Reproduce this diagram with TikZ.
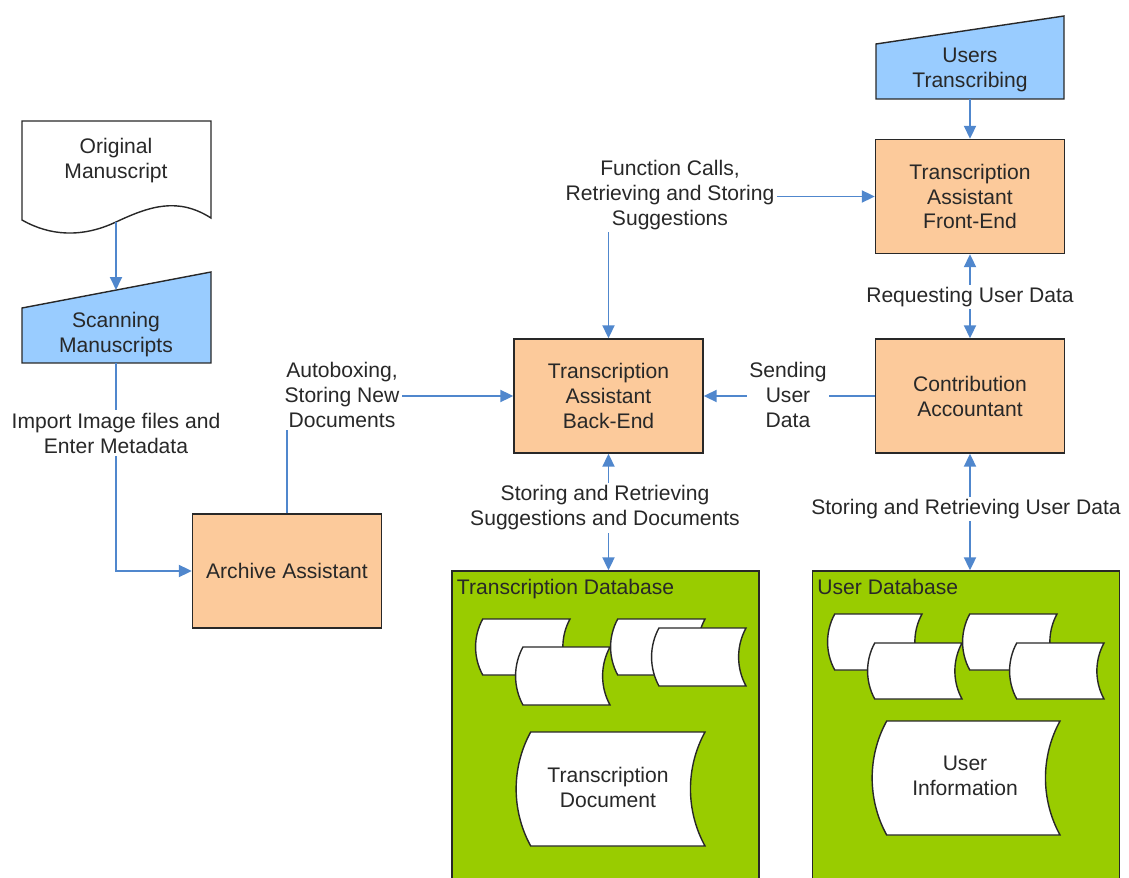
\documentclass[tikz,border=0pt]{standalone}
\usepackage{fontspec}
\setmainfont{Liberation Sans}
\usepackage{tikz}
\usetikzlibrary{arrows.meta, shapes.geometric}
\usetikzlibrary{positioning}
\definecolor{peach}{RGB}{252,202,155}
\definecolor{skyblue}{RGB}{153,204,255}
\definecolor{dbgreen}{RGB}{153,204,0}
\definecolor{flowblue}{RGB}{80,135,205}
\definecolor{inkgray}{RGB}{40,40,40}
\tikzstyle{process} = [rectangle, minimum width=3.78cm, minimum height=2.28cm, align=center, draw=inkgray, fill=peach, line width=0.8pt]
\tikzstyle{arrow} = [flowblue, line width=1.1pt, ->, >={Triangle[length=0.26cm, width=0.24cm]}]
\tikzstyle{twoway} = [arrow, <->]
\tikzstyle{tag} = [fill=white, inner sep=1.5pt, align=center]
\tikzstyle{manual} = [draw=inkgray, fill=skyblue, line width=0.8pt]
\tikzstyle{paper} = [draw=inkgray, fill=white, line width=0.8pt]
\tikzstyle{database} = [rectangle, draw=inkgray, fill=dbgreen, line width=0.8pt, minimum width=6.14cm, minimum height=6.3cm]
\newcommand{\storeddata}[4]{%
  \draw[paper] ({#1+0.12*#4},#2) -- ({#1+#3},#2)
    .. controls ({#1+#3-0.17*#4},{#2+0.31*#4}) and ({#1+#3-0.17*#4},{#2+0.69*#4}) .. ({#1+#3},{#2+#4})
    -- ({#1+0.12*#4},{#2+#4})
    .. controls ({#1-0.05*#4},{#2+0.69*#4}) and ({#1-0.05*#4},{#2+0.31*#4}) .. ({#1+0.12*#4},#2) -- cycle;}

\begin{document}
\begin{tikzpicture}[x=0.02cm, y=-0.02cm, font=\fontsize{12}{14.2}\selectfont, text=inkgray, align=center]
                    \useasboundingbox (0,0) rectangle (1129,878);
                    \draw[paper] (22,121) -- (211,121) -- (211,218) .. controls (178,197) and (150,206) .. (116,222) .. controls (82,238) and (50,236) .. (22,220) -- cycle;
                    \node (orig) at (116,161) {Original\\Manuscript};
                    \coordinate (origbot) at (116,222);
                    \draw[manual] (22,308) -- (211,272) -- (211,363) -- (22,363) -- cycle;
                    \node (scan) at (116,335) {Scanning\\Manuscripts};
                    \coordinate (scantop) at (116,290);
                    \coordinate (scanbot) at (116,363);
                    \draw[manual] (876,44) -- (1064,16) -- (1064,99) -- (876,99) -- cycle;
                    \node (users) at (970,70) {Users\\Transcribing};
                    \coordinate (usersbot) at (970,99);

                    \node[process] (archive) at (287,571) {Archive Assistant};
                    \node[process] (back) at (608.5,396) {Transcription\\Assistant\\Back-End};
                    \node[process] (front) at (970,196.5) {Transcription\\Assistant\\Front-End};
                    \node[process] (contrib) at (970,396) {Contribution\\Accountant};

                    \node[database] (transdb) at (605.5,728.5) {};
                    \node[database] (userdb) at (966,728.5) {};
                    \node[anchor=north west, inner xsep=3pt, inner ysep=5pt] (transdbtitle) at (transdb.north west) {Transcription Database};
                    \node[anchor=north west, inner xsep=3pt, inner ysep=5pt] (userdbtitle) at (userdb.north west) {User Database};

                    \storeddata{476}{619}{94}{56}
                    \storeddata{516}{647}{94}{58}
                    \storeddata{611}{619}{94}{56}
                    \storeddata{652}{628}{94}{58}
                    \storeddata{517}{732}{188}{114}
                    \node (transdoc) at (608,787) {Transcription\\Document};
                    \storeddata{828}{614}{94}{56}
                    \storeddata{868}{643}{94}{56}
                    \storeddata{963}{614}{94}{56}
                    \storeddata{1010}{643}{94}{56}
                    \storeddata{873}{721}{187}{114}
                    \node (userinfo) at (965,776) {User\\Information};

                    \draw[arrow] (origbot) -- (scantop);
                    \draw[arrow] (scanbot) |- (archive.west);
                    \draw[arrow] (archive.north) |- (back.west);
                    \draw[twoway] (back.north) |- (front.west);
                    \draw[arrow] (contrib.west) -- (back.east);
                    \draw[arrow] (usersbot) -- (front.north);
                    \draw[twoway] (front.south) -- (contrib.north);
                    \draw[twoway] (back.south) -- (back.south |- transdb.north);
                    \draw[twoway] (contrib.south) -- (contrib.south |- userdb.north);

                    \node[tag] (importlbl) at (116,433) {Import Image files and\\Enter Metadata};
                    \node[tag] (autolbl) at (342,395) {Autoboxing,\\Storing New\\Documents};
                    \node[tag] (calllbl) at (670,195) {Function Calls,\\Retrieving and Storing\\Suggestions};
                    \node[tag] (sendlbl) at (788,395) {Sending\\User\\Data};
                    \node[tag] (reqlbl) at (970,297) {Requesting User Data};
                    \node[tag] (storelbl) at (605,508) {Storing and Retrieving\\Suggestions and Documents};
                    \node[tag] (userstorelbl) at (966,509) {Storing and Retrieving User Data};
\end{tikzpicture}
\end{document}
